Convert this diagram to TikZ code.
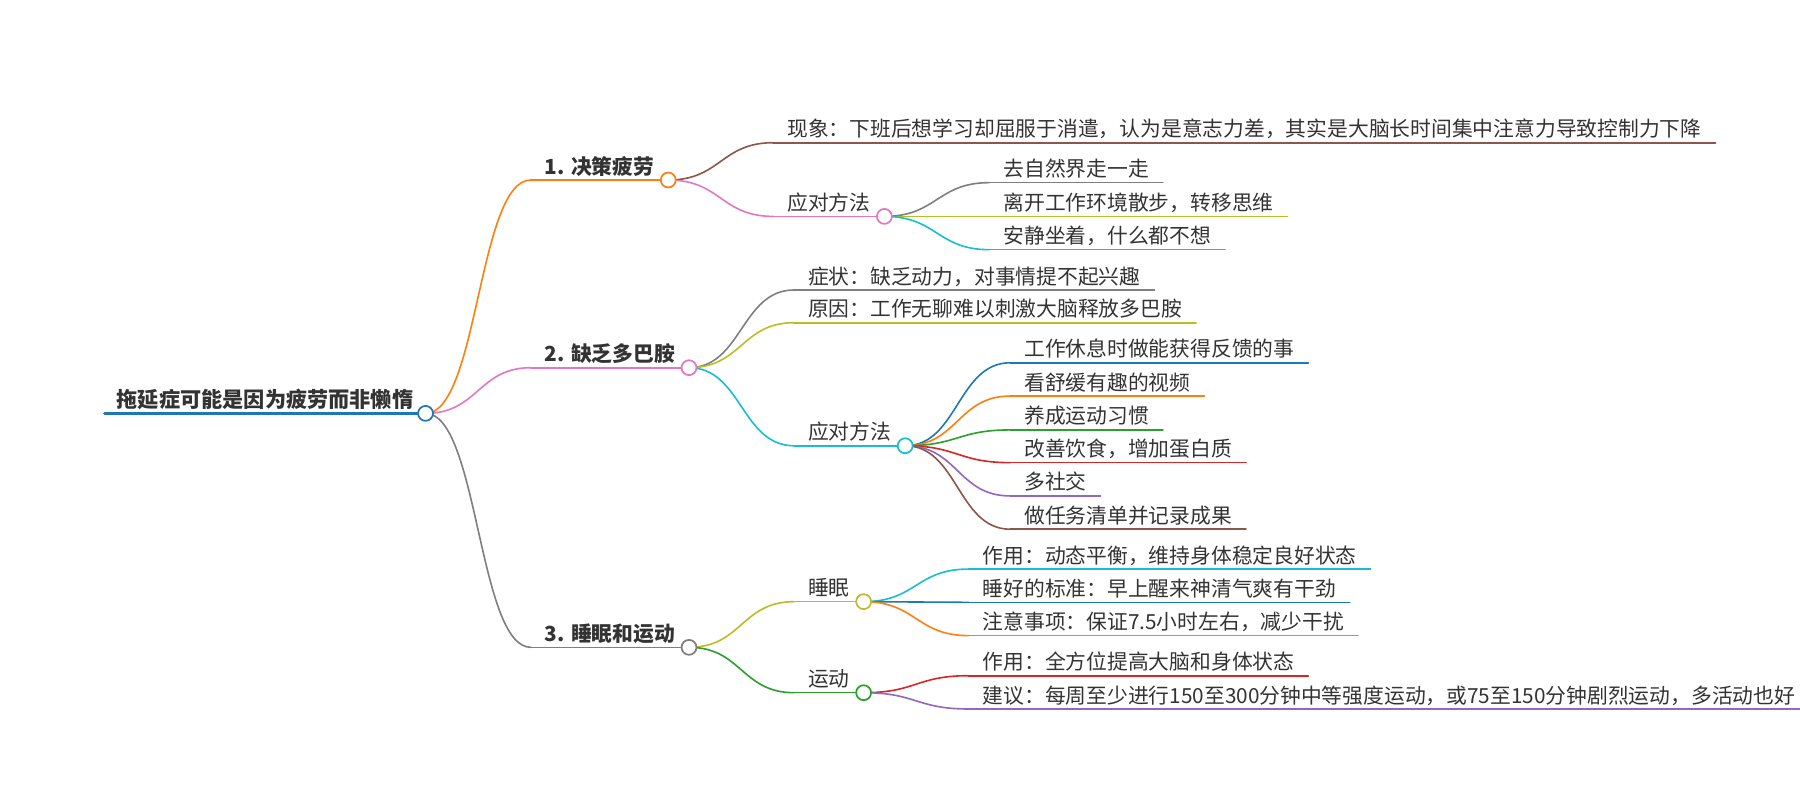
\documentclass[tikz,border=0pt]{standalone}
\usepackage{fontspec}
\setmainfont{Noto Sans CJK SC}
\usetikzlibrary{calc}
\definecolor{cBlue}{HTML}{1F77B4}
\definecolor{cOrange}{HTML}{FF7F0E}
\definecolor{cGreen}{HTML}{2CA02C}
\definecolor{cRed}{HTML}{D62728}
\definecolor{cPurple}{HTML}{9467BD}
\definecolor{cBrown}{HTML}{8C564B}
\definecolor{cPink}{HTML}{E377C2}
\definecolor{cGray}{HTML}{7F7F7F}
\definecolor{cOlive}{HTML}{BCBD22}
\definecolor{cCyan}{HTML}{17BECF}
\definecolor{txt}{HTML}{333333}
\tikzset{
  mm/.style={anchor=south west, inner xsep=12pt, inner ysep=5pt, text depth=0pt,
             font=\fontsize{18.1}{22}\selectfont, text=txt},
  mmb/.style={mm, font=\fontsize{18.1}{22}\selectfont\bfseries},
  mmroot/.style={mm, inner xsep=10.5pt, font=\fontsize{18.45}{22}\selectfont\bfseries},
  ln/.style={line width=1.4pt, line cap=round},
  knob/.style={line width=1.5pt, fill=white},
}
% link from parent circle to child line start, plus child underline
\newcommand{\mmlink}[3]{%
  \draw[ln,#3] (#1.south east) .. controls +(45.8,0) and +(-45.8,0) .. (#2.south west);
  \draw[ln,#3] (#2.south west) -- (#2.south east);}
\newcommand{\mmknob}[2]{\draw[draw=#2,knob] (#1.south east) circle[radius=6.5pt];}
\begin{document}
\begin{tikzpicture}[x=1pt,y=-1pt]
\useasboundingbox (0,0) rectangle (1568,697);
% ---- nodes ----
\node[mmroot] (m) at (91,360.1) {拖延症可能是因为疲劳而非懒惰};
\node[mmb] (b1) at ($(m.south east |- 0,156.8)+(91.7,0)$) {1. 决策疲劳};
\node[mmb] (b2) at ($(m.south east |- 0,320.3)+(91.7,0)$) {2. 缺乏多巴胺};
\node[mmb] (b3) at ($(m.south east |- 0,563.9)+(91.7,0)$) {3. 睡眠和运动};
% branch 1
\node[mm] (b1a) at ($(b1.south east |- 0,124.3)+(91.5,0)$) {现象：下班后想学习却屈服于消遣，认为是意志力差，其实是大脑长时间集中注意力导致控制力下降};
\node[mm] (b1b) at ($(b1.south east |- 0,188.5)+(91.5,0)$) {应对方法};
\node[mm] (b1b1) at ($(b1b.south east |- 0,159.1)+(91.5,0)$) {去自然界走一走};
\node[mm] (b1b2) at ($(b1b.south east |- 0,188.5)+(91.5,0)$) {离开工作环境散步，转移思维};
\node[mm] (b1b3) at ($(b1b.south east |- 0,217.5)+(91.5,0)$) {安静坐着，什么都不想};
% branch 2
\node[mm] (b2a) at ($(b2.south east |- 0,252.6)+(91.5,0)$) {症状：缺乏动力，对事情提不起兴趣};
\node[mm] (b2b) at ($(b2.south east |- 0,281.1)+(91.5,0)$) {原因：工作无聊难以刺激大脑释放多巴胺};
\node[mm] (b2c) at ($(b2.south east |- 0,388.3)+(91.5,0)$) {应对方法};
\node[mm] (b2c1) at ($(b2c.south east |- 0,316)+(91.5,0)$) {工作休息时做能获得反馈的事};
\node[mm] (b2c2) at ($(b2c.south east |- 0,345)+(91.5,0)$) {看舒缓有趣的视频};
\node[mm] (b2c3) at ($(b2c.south east |- 0,374.5)+(91.5,0)$) {养成运动习惯};
\node[mm] (b2c4) at ($(b2c.south east |- 0,403)+(91.5,0)$) {改善饮食，增加蛋白质};
\node[mm] (b2c5) at ($(b2c.south east |- 0,432)+(91.5,0)$) {多社交};
\node[mm] (b2c6) at ($(b2c.south east |- 0,461)+(91.5,0)$) {做任务清单并记录成果};
% branch 3
\node[mm] (b3a) at ($(b3.south east |- 0,524.1)+(91.5,0)$) {睡眠};
\node[mm] (b3b) at ($(b3.south east |- 0,603.4)+(91.5,0)$) {运动};
\node[mm] (b3a1) at ($(b3a.south east |- 0,495.7)+(91.5,0)$) {作用：动态平衡，维持身体稳定良好状态};
\node[mm] (b3a2) at ($(b3a.south east |- 0,524.7)+(91.5,0)$) {睡好的标准：早上醒来神清气爽有干劲};
\node[mm] (b3a3) at ($(b3a.south east |- 0,553.7)+(91.5,0)$) {注意事项：保证7.5小时左右，减少干扰};
\node[mm] (b3b1) at ($(b3b.south east |- 0,588.6)+(91.5,0)$) {作用：全方位提高大脑和身体状态};
\node[mm] (b3b2) at ($(b3b.south east |- 0,617.6)+(91.5,0)$) {建议：每周至少进行150至300分钟中等强度运动，或75至150分钟剧烈运动，多活动也好};
% ---- connectors and underlines ----
\draw[ln,cBlue,line width=2.2pt] (m.south west) -- (m.south east);
\mmlink{m}{b1}{cOrange}
\mmlink{m}{b2}{cPink}
\mmlink{m}{b3}{cGray}
\mmlink{b1}{b1a}{cBrown}
\mmlink{b1}{b1b}{cPink}
\mmlink{b1b}{b1b1}{cGray}
\mmlink{b1b}{b1b2}{cOlive}
\mmlink{b1b}{b1b3}{cCyan}
\mmlink{b2}{b2a}{cGray}
\mmlink{b2}{b2b}{cOlive}
\mmlink{b2}{b2c}{cCyan}
\mmlink{b2c}{b2c1}{cBlue}
\mmlink{b2c}{b2c2}{cOrange}
\mmlink{b2c}{b2c3}{cGreen}
\mmlink{b2c}{b2c4}{cRed}
\mmlink{b2c}{b2c5}{cPurple}
\mmlink{b2c}{b2c6}{cBrown}
\mmlink{b3}{b3a}{cOlive}
\mmlink{b3}{b3b}{cGreen}
\mmlink{b3a}{b3a1}{cCyan}
\mmlink{b3a}{b3a2}{cBlue}
\mmlink{b3a}{b3a3}{cOrange}
\mmlink{b3b}{b3b1}{cRed}
\mmlink{b3b}{b3b2}{cPurple}
% ---- circles ----
\mmknob{m}{cBlue}
\mmknob{b1}{cOrange}
\mmknob{b2}{cPink}
\mmknob{b3}{cGray}
\mmknob{b1b}{cPink}
\mmknob{b2c}{cCyan}
\mmknob{b3a}{cOlive}
\mmknob{b3b}{cGreen}
\end{tikzpicture}
\end{document}
